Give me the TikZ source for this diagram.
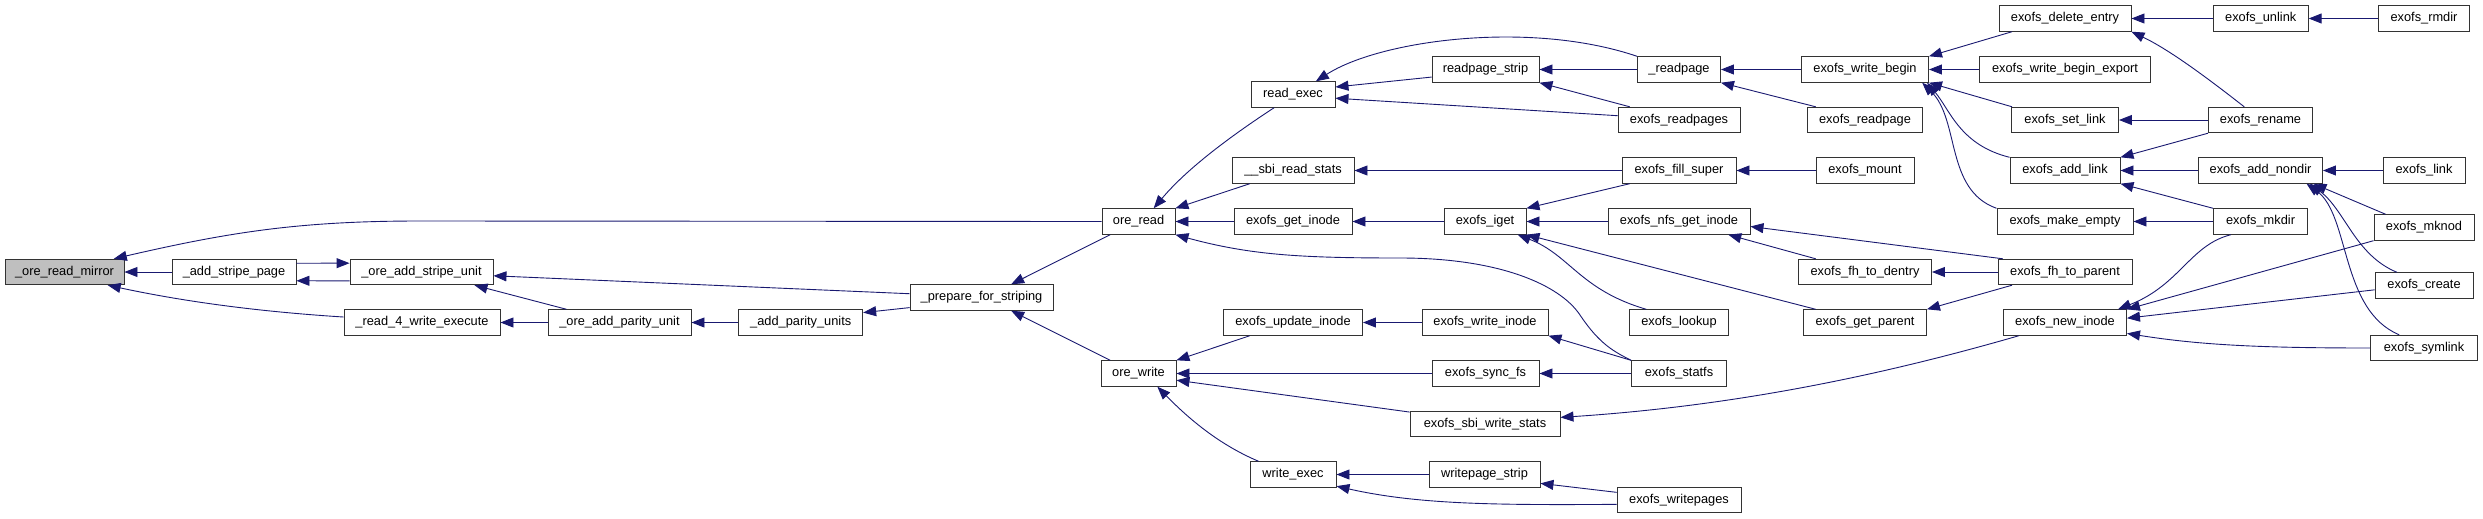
\documentclass[tikz,border=0pt]{standalone}
\usepackage{fontspec}
\setmainfont{Liberation Sans}
\usepackage{tikz}
\usetikzlibrary{arrows.meta}
\definecolor{edgeblue}{HTML}{191970}
\definecolor{rootgray}{HTML}{BFBFBF}

\begin{document}
\begin{tikzpicture}[x=1pt, y=-1pt,
    fn/.style={draw=black!80, line width=0.9pt, fill=white, minimum width=#1,
        minimum height=25.5pt, inner sep=0pt, font=\fontsize{12.8}{15}\selectfont},
    call/.style={edgeblue, line width=0.9pt, >={Triangle[length=13pt,width=10pt]}, <-}]
    \useasboundingbox (0,0) rectangle (2483,519);

    % column 0 .. 2
    \node[fn=119, fill=rootgray] (ore_read_mirror) at (64.5,272) {\_ore\_read\_mirror};
    \node[fn=124] (add_stripe_page) at (234,272) {\_add\_stripe\_page};
    \node[fn=143] (ore_add_stripe_unit) at (421.5,272) {\_ore\_add\_stripe\_unit};
    \node[fn=156] (read_4_write_execute) at (422,322.5) {\_read\_4\_write\_execute};
    \node[fn=143] (ore_add_parity_unit) at (619.5,322.5) {\_ore\_add\_parity\_unit};
    \node[fn=124] (add_parity_units) at (800.7,322.5) {\_add\_parity\_units};
    \node[fn=143] (prepare_for_striping) at (981.5,297.5) {\_prepare\_for\_striping};
    \node[fn=73] (ore_read) at (1138.5,221.5) {ore\_read};
    \node[fn=75] (ore_write) at (1138.5,373.5) {ore\_write};

    % column 3
    \node[fn=84] (read_exec) at (1293,94.5) {read\_exec};
    \node[fn=122] (sbi_read_stats) at (1293,170.5) {\_\_sbi\_read\_stats};
    \node[fn=118] (exofs_get_inode) at (1293,221.5) {exofs\_get\_inode};
    \node[fn=139] (exofs_update_inode) at (1293,322.5) {exofs\_update\_inode};
    \node[fn=86] (write_exec) at (1293,474.5) {write\_exec};

    % column 4
    \node[fn=107] (readpage_strip) at (1485.5,69.5) {readpage\_strip};
    \node[fn=82] (exofs_iget) at (1485,221.5) {exofs\_iget};
    \node[fn=126] (exofs_write_inode) at (1485,322.5) {exofs\_write\_inode};
    \node[fn=107] (exofs_sync_fs) at (1485.5,373.5) {exofs\_sync\_fs};
    \node[fn=150] (exofs_sbi_write_stats) at (1485,424) {exofs\_sbi\_write\_stats};
    \node[fn=111] (writepage_strip) at (1484.5,474.5) {writepage\_strip};

    % column 5
    \node[fn=83] (readpage) at (1679,69.5) {\_readpage};
    \node[fn=122] (exofs_readpages) at (1679,120) {exofs\_readpages};
    \node[fn=114] (exofs_fill_super) at (1679,170.5) {exofs\_fill\_super};
    \node[fn=142] (exofs_nfs_get_inode) at (1679,221.5) {exofs\_nfs\_get\_inode};
    \node[fn=99] (exofs_lookup) at (1679,322.5) {exofs\_lookup};
    \node[fn=95] (exofs_statfs) at (1679,373.5) {exofs\_statfs};
    \node[fn=124] (exofs_writepages) at (1679,500) {exofs\_writepages};

    % column 6
    \node[fn=127] (exofs_write_begin) at (1865,69.5) {exofs\_write\_begin};
    \node[fn=115] (exofs_readpage) at (1865,120) {exofs\_readpage};
    \node[fn=98] (exofs_mount) at (1865,170.5) {exofs\_mount};
    \node[fn=133] (exofs_fh_to_dentry) at (1865,272) {exofs\_fh\_to\_dentry};
    \node[fn=123] (exofs_get_parent) at (1865,322.5) {exofs\_get\_parent};

    % column 7
    \node[fn=132] (exofs_delete_entry) at (2065,18.5) {exofs\_delete\_entry};
    \node[fn=171] (exofs_write_begin_export) at (2065,69.5) {exofs\_write\_begin\_export};
    \node[fn=107] (exofs_set_link) at (2065,120) {exofs\_set\_link};
    \node[fn=110] (exofs_add_link) at (2065,170.5) {exofs\_add\_link};
    \node[fn=136] (exofs_make_empty) at (2065,221.5) {exofs\_make\_empty};
    \node[fn=134] (exofs_fh_to_parent) at (2065,272) {exofs\_fh\_to\_parent};
    \node[fn=123] (exofs_new_inode) at (2065,322.5) {exofs\_new\_inode};

    % column 8 .. 9
    \node[fn=95] (exofs_unlink) at (2260.7,18.5) {exofs\_unlink};
    \node[fn=104] (exofs_rename) at (2260.5,120) {exofs\_rename};
    \node[fn=124] (exofs_add_nondir) at (2260.5,170.5) {exofs\_add\_nondir};
    \node[fn=94] (exofs_mkdir) at (2260.5,221.5) {exofs\_mkdir};
    \node[fn=91] (exofs_rmdir) at (2424,18.5) {exofs\_rmdir};
    \node[fn=82] (exofs_link) at (2424,170.5) {exofs\_link};
    \node[fn=100] (exofs_mknod) at (2424,227.5) {exofs\_mknod};
    \node[fn=98] (exofs_create) at (2424,285.5) {exofs\_create};
    \node[fn=107] (exofs_symlink) at (2424,348) {exofs\_symlink};

    % callers of the striping code
    \draw[call] (ore_read_mirror.east) -- (add_stripe_page.west);
    \draw[call] (ore_read_mirror.15) .. controls (230,232) and (300,221) .. (420,221) -- (ore_read.west);
    \draw[call] (ore_read_mirror.-17) .. controls (200,305) and (280,313) .. (read_4_write_execute.176);
    \draw[call] (ore_add_stripe_unit.173) -- (add_stripe_page.8);
    \draw[call] (add_stripe_page.-8) -- (ore_add_stripe_unit.-173);
    \draw[call] (ore_add_stripe_unit.-3) -- (prepare_for_striping.177);
    \draw[call] (ore_add_stripe_unit.-14) -- (ore_add_parity_unit.166);
    \draw[call] (read_4_write_execute.east) -- (ore_add_parity_unit.west);
    \draw[call] (ore_add_parity_unit.east) -- (add_parity_units.west);
    \draw[call] (add_parity_units.9) -- (prepare_for_striping.-172);
    \draw[call] (prepare_for_striping.24) -- (ore_read.-155);
    \draw[call] (prepare_for_striping.-24) -- (ore_write.155);

    % ore_read / ore_write
    \draw[call] (ore_read.41) .. controls (1190,165) and (1240,130) .. (read_exec.-145);
    \draw[call] (ore_read.north east) -- (sbi_read_stats.-163);
    \draw[call] (ore_read.east) -- (exofs_get_inode.west);
    \draw[call] (ore_read.south east) .. controls (1250,255) and (1300,258) .. (1400,258)
        .. controls (1500,258) and (1560,285) .. (1580,315)
        .. controls (1600,345) and (1615,352) .. (exofs_statfs.north west);
    \draw[call] (ore_write.north east) -- (exofs_update_inode.-163);
    \draw[call] (ore_write.east) -- (exofs_sync_fs.west);
    \draw[call] (ore_write.-10) -- (exofs_sbi_write_stats.171);
    \draw[call] (ore_write.-35) .. controls (1190,420) and (1220,445) .. (write_exec.159);

    % read and write paths
    \draw[call] (read_exec.30) .. controls (1380,40) and (1530,20) .. (readpage.north west);
    \draw[call] (read_exec.10) -- (readpage_strip.-172);
    \draw[call] (read_exec.-5) -- (exofs_readpages.176);
    \draw[call] (readpage_strip.east) -- (readpage.west);
    \draw[call] (readpage_strip.south east) -- (exofs_readpages.165);
    \draw[call] (sbi_read_stats.east) -- (exofs_fill_super.west);
    \draw[call] (exofs_get_inode.east) -- (exofs_iget.west);
    \draw[call] (exofs_iget.north east) -- (exofs_fill_super.-165);
    \draw[call] (exofs_iget.east) -- (exofs_nfs_get_inode.west);
    \draw[call] (exofs_iget.south east) -- (exofs_get_parent.165);
    \draw[call] (exofs_iget.-22) .. controls (1570,255) and (1580,290) .. (exofs_lookup.158);
    \draw[call] (exofs_update_inode.east) -- (exofs_write_inode.west);
    \draw[call] (exofs_write_inode.south east) -- (exofs_statfs.north west);
    \draw[call] (exofs_sync_fs.east) -- (exofs_statfs.west);
    \draw[call] (exofs_sbi_write_stats.5) .. controls (1750,405) and (1900,370) .. (exofs_new_inode.-164);
    \draw[call] (write_exec.east) -- (writepage_strip.west);
    \draw[call] (write_exec.-15) .. controls (1420,505) and (1500,505) .. (exofs_writepages.-176);
    \draw[call] (writepage_strip.-9) -- (exofs_writepages.173);

    % vfs side
    \draw[call] (readpage.east) -- (exofs_write_begin.west);
    \draw[call] (readpage.south east) -- (exofs_readpage.165);
    \draw[call] (exofs_fill_super.east) -- (exofs_mount.west);
    \draw[call] (exofs_nfs_get_inode.-15) -- (exofs_fh_to_dentry.165);
    \draw[call] (exofs_nfs_get_inode.-4) -- (exofs_fh_to_parent.168);
    \draw[call] (exofs_fh_to_dentry.east) -- (exofs_fh_to_parent.west);
    \draw[call] (exofs_get_parent.north east) -- (exofs_fh_to_parent.-166);
    \draw[call] (exofs_write_begin.north east) -- (exofs_delete_entry.-166);
    \draw[call] (exofs_write_begin.east) -- (exofs_write_begin_export.west);
    \draw[call] (exofs_write_begin.south east) -- (exofs_set_link.166);
    \draw[call] (exofs_write_begin.-12) .. controls (1950,110) and (1960,145) .. (exofs_add_link.north west);
    \draw[call] (exofs_write_begin.-13) .. controls (1960,120) and (1945,190) .. (exofs_make_empty.north west);

    % directory operations
    \draw[call] (exofs_delete_entry.east) -- (exofs_unlink.west);
    \draw[call] (exofs_delete_entry.south east) .. controls (2170,50) and (2210,80) .. (exofs_rename.141);
    \draw[call] (exofs_unlink.east) -- (exofs_rmdir.west);
    \draw[call] (exofs_set_link.east) -- (exofs_rename.west);
    \draw[call] (exofs_add_link.north east) -- (exofs_rename.south west);
    \draw[call] (exofs_add_link.east) -- (exofs_add_nondir.west);
    \draw[call] (exofs_add_link.south east) -- (exofs_mkdir.north west);
    \draw[call] (exofs_make_empty.east) -- (exofs_mkdir.west);
    \draw[call] (exofs_new_inode.14) .. controls (2180,285) and (2190,245) .. (exofs_mkdir.-156);
    \draw[call] (exofs_new_inode.north east) -- (exofs_mknod.south west);
    \draw[call] (exofs_new_inode.4) -- (exofs_create.-175);
    \draw[call] (exofs_new_inode.-10) .. controls (2200,345) and (2260,348) .. (exofs_symlink.west);
    \draw[call] (exofs_add_nondir.east) -- (exofs_link.west);
    \draw[call] (exofs_add_nondir.-14) -- (exofs_mknod.161);
    \draw[call] (exofs_add_nondir.-15) .. controls (2345,210) and (2355,255) .. (exofs_create.154);
    \draw[call] (exofs_add_nondir.-16) .. controls (2350,215) and (2340,310) .. (exofs_symlink.152);
\end{tikzpicture}
\end{document}
